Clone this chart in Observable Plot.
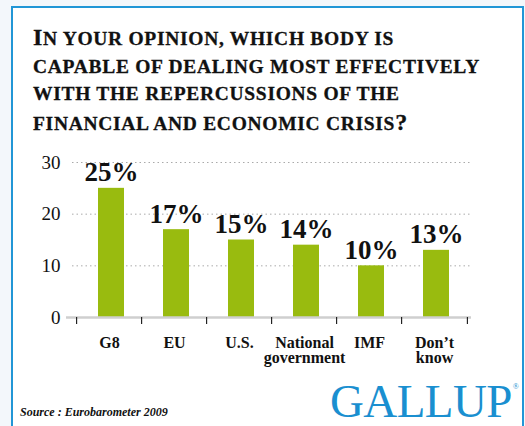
<!DOCTYPE html>
<html>
<head>
<meta charset="utf-8">
<script src="https://cdn.jsdelivr.net/npm/d3@7"></script>
<script src="https://cdn.jsdelivr.net/npm/@observablehq/plot@0.6"></script>
<style>
  body { margin:0; width:525px; height:426px; overflow:hidden; background:#f3f7fb; font-family:"Liberation Serif", "Times New Roman", serif; }
  #frame { position:absolute; left:11px; top:6px; width:509px; height:440px; border:2px solid #2196d6; background:#fff; }
  #title { position:absolute; left:33px; top:24px; font-weight:bold; color:#111; line-height:26.7px; letter-spacing:0.7px; white-space:nowrap; -webkit-text-stroke:0.3px #111; }
  #title .c { font-size:24px; }
  #title .s { font-size:19.5px; }
  #chart { position:absolute; left:0; top:140px; }
  #chart svg text { font-family:"Liberation Serif", "Times New Roman", serif; }
  #source { position:absolute; left:20px; top:405px; font-size:12px; line-height:14px; font-style:italic; font-weight:bold; color:#111; }
  #logo { position:absolute; left:330px; top:380px; font-size:47px; line-height:42px; color:#1a8fd0; letter-spacing:-0.6px; white-space:nowrap; }
  #logo sup { font-size:8px; line-height:8px; vertical-align:top; position:relative; top:3px; left:1px; letter-spacing:0; }
</style>
</head>
<body>
<div id="frame"></div>
<div id="title">
  <div><span class="c">I</span><span class="s">N YOUR OPINION, WHICH BODY IS</span></div>
  <div><span class="s">CAPABLE OF DEALING MOST EFFECTIVELY</span></div>
  <div><span class="s">WITH THE REPERCUSSIONS OF THE</span></div>
  <div><span class="s">FINANCIAL AND ECONOMIC CRISIS</span><span class="c">?</span></div>
</div>
<div id="chart"></div>
<div id="source">Source : Eurobarometer 2009</div>
<div id="logo">GALLUP<sup>®</sup></div>
<script>
const categories = ["G8", "EU", "U.S.", "National\ngovernment", "IMF", "Don’t\nknow"];
const values = [25, 17, 15, 14, 10, 13];
const valueLabels = ["25%", "17%", "15%", "14%", "10%", "13%"];
const yTicks = [0, 10, 20, 30];

const data = categories.map((c, i) => ({cat: c, value: values[i], label: valueLabels[i]}));

const FONT = "Liberation Serif, Times New Roman, serif";
const mL = 76, mR = 54, W = 525;
const step = (W - mL - mR) / categories.length;

const chart = Plot.plot({
  width: W,
  height: 240,
  marginLeft: mL,
  marginRight: mR,
  marginTop: 22,
  marginBottom: 63,
  style: {fontFamily: FONT, color: "#111", background: "transparent"},
  x: {domain: categories, paddingInner: 0.595, paddingOuter: 0.2975, axis: null},
  y: {domain: [0, 30], axis: null},
  marks: [
    Plot.gridY(yTicks.filter(d => d > 0), {stroke: "#aaa", strokeOpacity: 1, strokeDasharray: "1.5,3", insetLeft: -4}),
    Plot.barY(data, {x: "cat", y: "value", fill: "#99bb0f"}),
    Plot.ruleY([0], {stroke: "#cfcfcf", strokeWidth: 2.5, insetLeft: -10}),
    Plot.ruleX(categories, {x: d => d, y1: 0, y2: 0, insetBottom: -7, dx: -step / 2 - 2, stroke: "#222", strokeWidth: 1.2}),
    Plot.ruleX(categories.slice(-1), {x: d => d, y1: 0, y2: 0, insetBottom: -7, dx: step / 2 - 2, stroke: "#222", strokeWidth: 1.2}),
    Plot.axisY({ticks: yTicks, label: null, tickSize: 0, tickPadding: 16, fontSize: 19, fontFamily: FONT, textAnchor: "end"}),
    Plot.axisX({label: null, tickSize: 0, tickPadding: 20, fontSize: 16, fontFamily: FONT, fontWeight: "bold", lineHeight: 0.95, dx: -2}),
    Plot.text(data, {x: "cat", y: "value", text: "label", dy: -7, lineAnchor: "bottom", fontSize: 27, fontFamily: FONT, fontWeight: "bold", fill: "#111"})
  ]
});
document.getElementById("chart").appendChild(chart);
</script>
</body>
</html>
